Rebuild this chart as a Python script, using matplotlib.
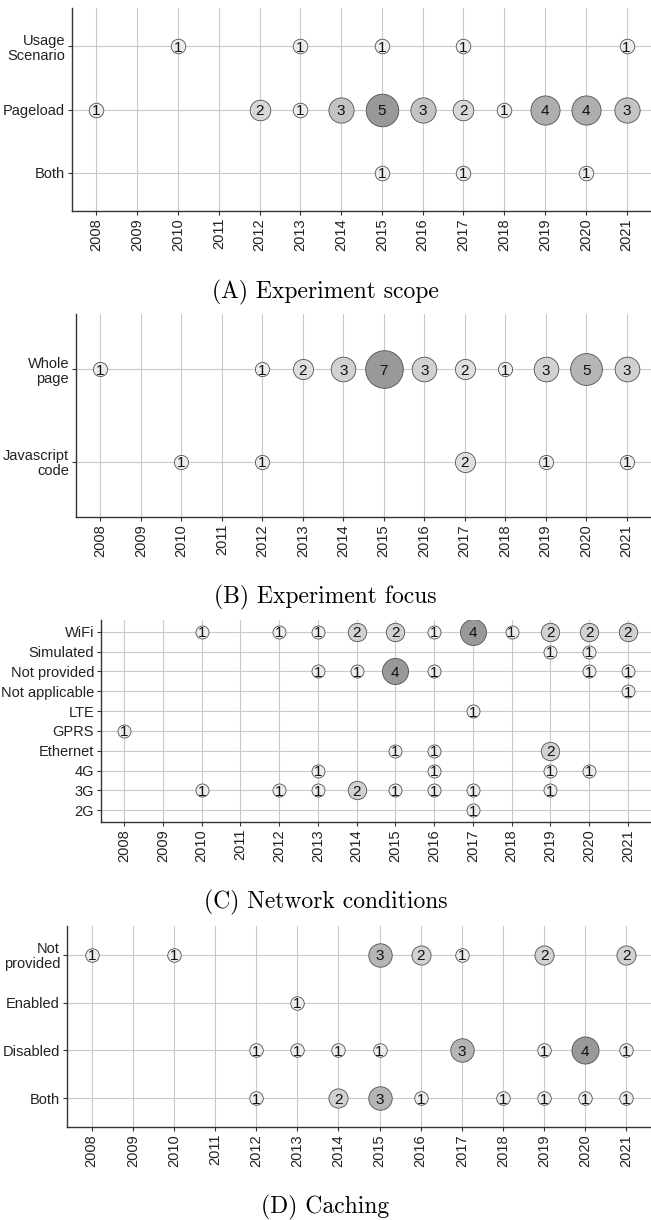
import matplotlib.pyplot as plt
import numpy as np

# Studies per year, per category (year, count)
years = list(range(2008, 2022))

scope_categories = ["Both", "Pageload", "Usage\nScenario"]
scope_counts = {
    "Usage\nScenario": [(2010, 1), (2013, 1), (2015, 1), (2017, 1), (2021, 1)],
    "Pageload": [(2008, 1), (2012, 2), (2013, 1), (2014, 3), (2015, 5), (2016, 3),
                 (2017, 2), (2018, 1), (2019, 4), (2020, 4), (2021, 3)],
    "Both": [(2015, 1), (2017, 1), (2020, 1)],
}

focus_categories = ["Javascript\ncode", "Whole\npage"]
focus_counts = {
    "Whole\npage": [(2008, 1), (2012, 1), (2013, 2), (2014, 3), (2015, 7), (2016, 3),
                    (2017, 2), (2018, 1), (2019, 3), (2020, 5), (2021, 3)],
    "Javascript\ncode": [(2010, 1), (2012, 1), (2017, 2), (2019, 1), (2021, 1)],
}

network_categories = ["2G", "3G", "4G", "Ethernet", "GPRS", "LTE",
                      "Not applicable", "Not provided", "Simulated", "WiFi"]
network_counts = {
    "WiFi": [(2010, 1), (2012, 1), (2013, 1), (2014, 2), (2015, 2), (2016, 1),
             (2017, 4), (2018, 1), (2019, 2), (2020, 2), (2021, 2)],
    "Simulated": [(2019, 1), (2020, 1)],
    "Not provided": [(2013, 1), (2014, 1), (2015, 4), (2016, 1), (2020, 1), (2021, 1)],
    "Not applicable": [(2021, 1)],
    "LTE": [(2017, 1)],
    "GPRS": [(2008, 1)],
    "Ethernet": [(2015, 1), (2016, 1), (2019, 2)],
    "4G": [(2013, 1), (2016, 1), (2019, 1), (2020, 1)],
    "3G": [(2010, 1), (2012, 1), (2013, 1), (2014, 2), (2015, 1), (2016, 1),
           (2017, 1), (2019, 1)],
    "2G": [(2017, 1)],
}

caching_categories = ["Both", "Disabled", "Enabled", "Not\nprovided"]
caching_counts = {
    "Not\nprovided": [(2008, 1), (2010, 1), (2015, 3), (2016, 2), (2017, 1),
                      (2019, 2), (2021, 2)],
    "Enabled": [(2013, 1)],
    "Disabled": [(2012, 1), (2013, 1), (2014, 1), (2015, 1), (2017, 3), (2019, 1),
                 (2020, 4), (2021, 1)],
    "Both": [(2012, 1), (2014, 2), (2015, 3), (2016, 1), (2018, 1), (2019, 1),
             (2020, 1), (2021, 1)],
}

W, H = 651, 1220
fig = plt.figure(figsize=(W / 100, H / 100), dpi=100)

SANS = "Liberation Sans"
SERIF = "cmr10"


def px_axes(left, top, bottom, right=W):
    return fig.add_axes([left / W, 1 - bottom / H, (right - left) / W, (bottom - top) / H])


def bubble_panel(ax, categories, counts, base_size):
    max_n = max(n for pts in counts.values() for _, n in pts)
    light, dark = 0.93, 0.60
    for yi, cat in enumerate(categories):
        for year, n in counts.get(cat, []):
            t = (n - 1) / (max_n - 1) if max_n > 1 else 0
            g = light + (dark - light) * t
            ax.scatter(year, yi, s=base_size * n, color=(g, g, g),
                       edgecolors="#505050", linewidths=0.6, zorder=3)
            ax.text(year, yi, str(n), ha="center", va="center_baseline",
                    fontsize=11, family=SANS, color="#111111", zorder=4)

    ax.set_xlim(2007.4, 2021.6)
    ax.set_ylim(-0.6, len(categories) - 0.4)
    ax.set_xticks(years)
    ax.set_xticklabels([str(y) for y in years], rotation=90, family=SANS,
                       fontsize=10.5, color="#222222")
    ax.set_yticks(range(len(categories)))
    ax.set_yticklabels(categories, family=SANS, fontsize=10.5, color="#222222",
                       linespacing=1.1)
    ax.grid(True, color="#c9c9c9", linewidth=0.8, zorder=0)
    ax.set_axisbelow(True)
    for side in ("top", "right"):
        ax.spines[side].set_visible(False)
    for side in ("left", "bottom"):
        ax.spines[side].set_color("#333333")
        ax.spines[side].set_linewidth(1.0)
    ax.tick_params(length=3, width=0.8, color="#333333", pad=2)


ax_a = px_axes(72, 8, 211)
bubble_panel(ax_a, scope_categories, scope_counts, 110)
fig.text(0.5, 1 - 292 / H, "(A) Experiment scope", ha="center", va="center",
         family=SERIF, fontsize=17)

ax_b = px_axes(76, 314, 517)
bubble_panel(ax_b, focus_categories, focus_counts, 105)
fig.text(0.5, 1 - 597 / H, "(B) Experiment focus", ha="center", va="center",
         family=SERIF, fontsize=17)

ax_c = px_axes(101, 620, 822)
bubble_panel(ax_c, network_categories, network_counts, 88)
fig.text(0.5, 1 - 902 / H, "(C) Network conditions", ha="center", va="center",
         family=SERIF, fontsize=17)

ax_d = px_axes(67, 926, 1127)
bubble_panel(ax_d, caching_categories, caching_counts, 95)
fig.text(0.5, 1 - 1207 / H, "(D) Caching", ha="center", va="center",
         family=SERIF, fontsize=17)

fig.savefig("out.png", dpi=100, facecolor="white")
